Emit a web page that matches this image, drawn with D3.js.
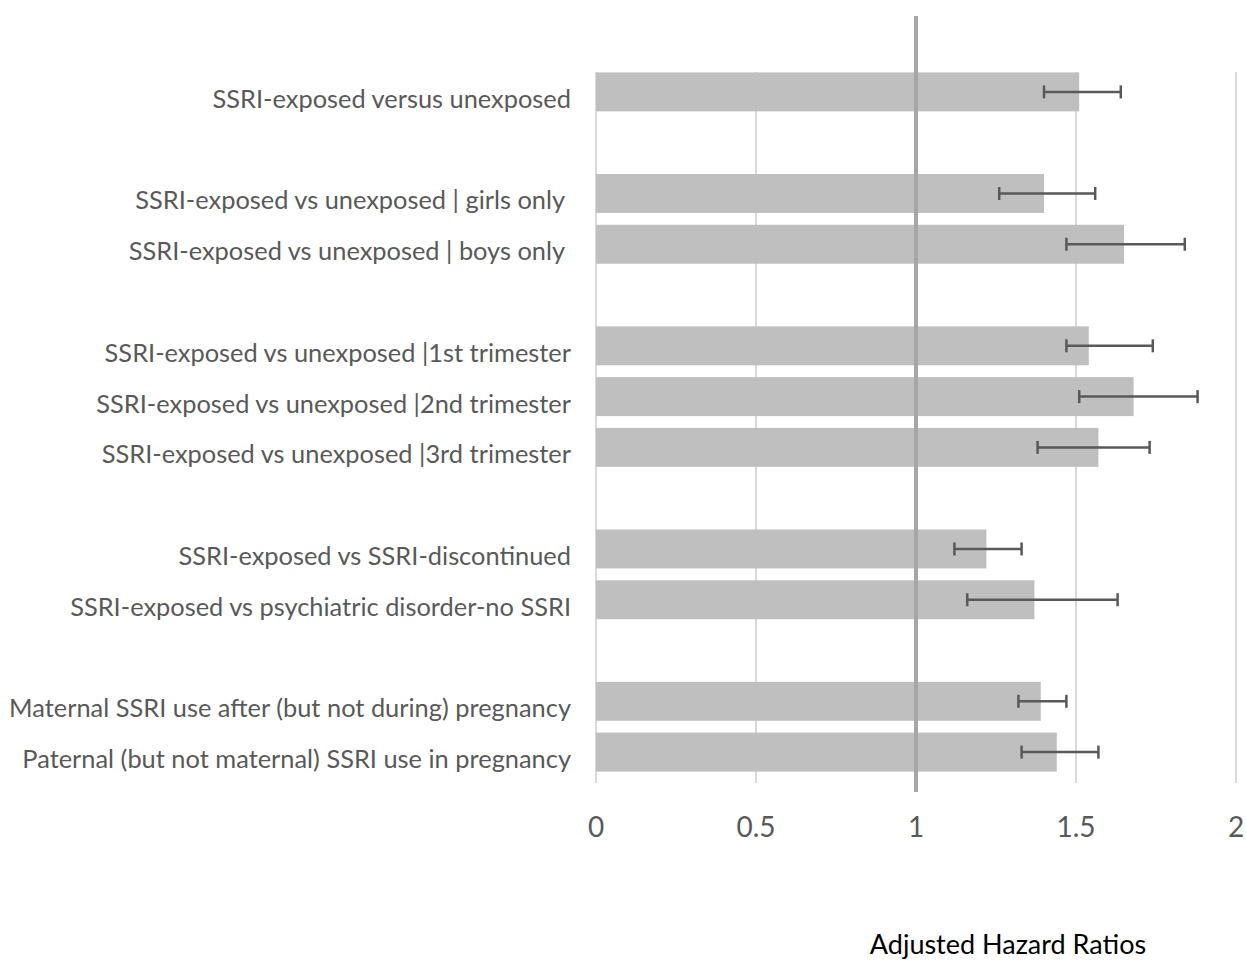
<!DOCTYPE html>
<html>
<head>
<meta charset="utf-8">
<script src="https://cdn.jsdelivr.net/npm/d3@7"></script>
<style>
  body { margin: 0; background: #fff; }
  svg text { white-space: pre; }
</style>
</head>
<body>
<div id="chart"></div>
<script>
// rows from top to bottom
var categories = [
    "SSRI-exposed versus unexposed",
    "SSRI-exposed vs unexposed | girls only ",
    "SSRI-exposed vs unexposed | boys only ",
    "SSRI-exposed vs unexposed |1st trimester",
    "SSRI-exposed vs unexposed |2nd trimester",
    "SSRI-exposed vs unexposed |3rd trimester",
    "SSRI-exposed vs SSRI-discontinued",
    "SSRI-exposed vs psychiatric disorder-no SSRI",
    "Maternal SSRI use after (but not during) pregnancy",
    "Paternal (but not maternal) SSRI use in pregnancy"
];
var hazardRatios = [1.51, 1.40, 1.65, 1.54, 1.68, 1.57, 1.22, 1.37, 1.39, 1.44];
var ciLower = [1.40, 1.26, 1.47, 1.47, 1.51, 1.38, 1.12, 1.16, 1.32, 1.33];
var ciUpper = [1.64, 1.56, 1.84, 1.74, 1.88, 1.73, 1.33, 1.63, 1.47, 1.57];
// index of the group each row belongs to (a blank row separates groups)
var groupOf = [0, 1, 1, 2, 2, 2, 3, 3, 4, 4];
var xTicks = [0, 0.5, 1, 1.5, 2];
var xTickLabels = ["0", "0.5", "1", "1.5", "2"];
var referenceValue = 1;
var axisTitle = "Adjusted Hazard Ratios";

var width = 1246, height = 962;
var font = "Lato, 'Open Sans', sans-serif";

// build band domain with spacer slots between groups
var slots = [];
categories.forEach(function(c, i) {
    if (i > 0 && groupOf[i] !== groupOf[i - 1]) {
        slots.push("gap-" + i);
    }
    slots.push(c);
});

var svg = d3.select("#chart").append("svg")
    .attr("width", width)
    .attr("height", height);

var xScale = d3.scaleLinear()
    .domain([0, 2])
    .range([596, 1236]);

var yScale = d3.scaleBand()
    .domain(slots)
    .range([66.5, 777.5])
    .paddingInner(0.233)
    .paddingOuter(0.1165);

var gridTop = 72, gridBottom = 783;

// gridlines
svg.append("g").selectAll("line").data(xTicks)
    .enter()
    .append("line")
    .attr("x1", function(d) { return xScale(d); })
    .attr("x2", function(d) { return xScale(d); })
    .attr("y1", gridTop)
    .attr("y2", gridBottom)
    .attr("stroke", "#d9d9d9")
    .attr("stroke-width", 2);

var rows = categories.map(function(c, i) {
    return {label: c, value: hazardRatios[i], lo: ciLower[i], hi: ciUpper[i]};
});

// bars
svg.append("g").selectAll("rect").data(rows)
    .enter()
    .append("rect")
    .attr("x", xScale(0))
    .attr("y", function(d) { return yScale(d.label); })
    .attr("width", function(d) { return xScale(d.value) - xScale(0); })
    .attr("height", yScale.bandwidth())
    .attr("fill", "#bfbfbf");

// reference line at HR = 1
svg.append("line")
    .attr("x1", xScale(referenceValue))
    .attr("x2", xScale(referenceValue))
    .attr("y1", 16)
    .attr("y2", 792)
    .attr("stroke", "#a6a6a6")
    .attr("stroke-width", 4);

// error bars
var capHalf = 6.5;
var err = svg.append("g").attr("stroke", "#595959").attr("stroke-width", 2.5);
rows.forEach(function(d) {
    var cy = yScale(d.label) + yScale.bandwidth() / 2;
    err.append("line")
        .attr("x1", xScale(d.lo)).attr("x2", xScale(d.hi))
        .attr("y1", cy).attr("y2", cy);
    [d.lo, d.hi].forEach(function(v) {
        err.append("line")
            .attr("x1", xScale(v)).attr("x2", xScale(v))
            .attr("y1", cy - capHalf).attr("y2", cy + capHalf);
    });
});

// category labels
svg.append("g").selectAll("text").data(rows)
    .enter()
    .append("text")
    .attr("x", 571)
    .attr("y", function(d) { return yScale(d.label) + yScale.bandwidth() / 2 + 6; })
    .attr("text-anchor", "end")
    .attr("dominant-baseline", "central")
    .attr("font-family", font)
    .attr("font-size", 25.4)
    .attr("fill", "#595959")
    .text(function(d) { return d.label; });

// x tick labels
svg.append("g").selectAll("text").data(xTicks)
    .enter()
    .append("text")
    .attr("x", function(d) { return xScale(d); })
    .attr("y", 826)
    .attr("text-anchor", "middle")
    .attr("dominant-baseline", "central")
    .attr("font-family", font)
    .attr("font-size", 28)
    .attr("fill", "#595959")
    .text(function(d, i) { return xTickLabels[i]; });

// axis title
svg.append("text")
    .attr("x", 1008)
    .attr("y", 943)
    .attr("text-anchor", "middle")
    .attr("dominant-baseline", "central")
    .attr("font-family", font)
    .attr("font-size", 27)
    .attr("fill", "#000")
    .text(axisTitle);
</script>
</body>
</html>
